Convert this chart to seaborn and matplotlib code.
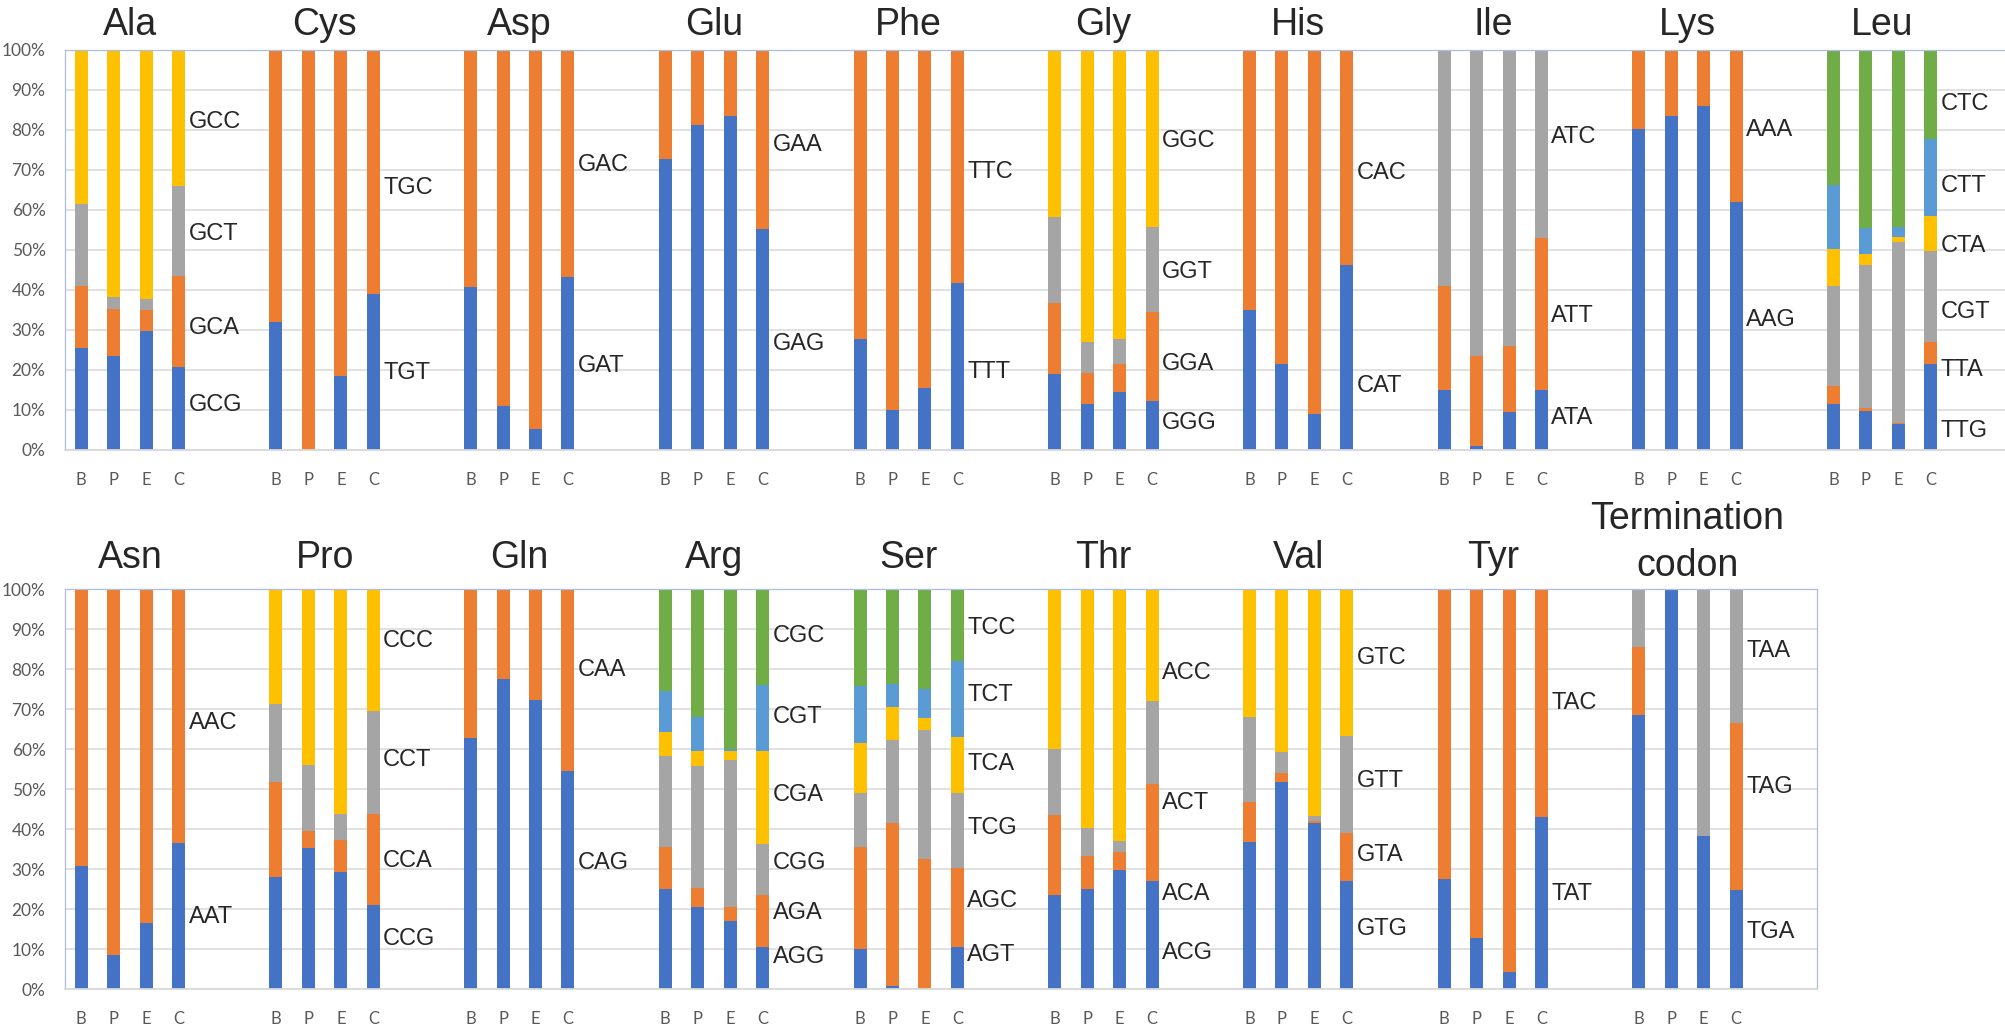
import numpy as np
import pandas as pd
import matplotlib
matplotlib.use("Agg")
import matplotlib.pyplot as plt
import seaborn as sns

# ---------------- DATA ----------------
STAGES = ["B", "P", "E", "C"]

TOP_ROW = ["Ala", "Cys", "Asp", "Glu", "Phe", "Gly", "His", "Ile", "Lys", "Leu"]
BOTTOM_ROW = ["Asn", "Pro", "Gln", "Arg", "Ser", "Thr", "Val", "Tyr", "Termination codon"]

# codons listed bottom -> top of each stacked bar; values in % for B, P, E, C
ala_codons = ["GCG", "GCA", "GCT", "GCC"]
ala_values = [[25.4, 23.4, 29.7, 20.7], [15.6, 11.9, 5.3, 22.8], [20.6, 3.0, 2.7, 22.4]]
cys_codons = ["TGT", "TGC"]
cys_values = [[32.0, 0.0, 18.5, 39.0]]
asp_codons = ["GAT", "GAC"]
asp_values = [[40.8, 11.1, 5.3, 43.2]]
glu_codons = ["GAG", "GAA"]
glu_values = [[72.7, 81.2, 83.4, 55.3]]
phe_codons = ["TTT", "TTC"]
phe_values = [[27.7, 10.1, 15.5, 41.7]]
gly_codons = ["GGG", "GGA", "GGT", "GGC"]
gly_values = [[19.1, 11.5, 14.5, 12.2], [17.6, 7.7, 6.9, 22.4], [21.6, 7.8, 6.3, 21.2]]
his_codons = ["CAT", "CAC"]
his_values = [[34.9, 21.5, 8.9, 46.3]]
ile_codons = ["ATA", "ATT", "ATC"]
ile_values = [[15.1, 1.1, 9.4, 15.1], [25.9, 22.3, 16.5, 37.9]]
lys_codons = ["AAG", "AAA"]
lys_values = [[80.2, 83.6, 85.9, 62.0]]
leu_codons = ["TTG", "TTA", "CGT", "CTA", "CTT", "CTC"]
leu_values = [[11.6, 9.7, 6.4, 21.5], [4.3, 0.8, 0.3, 5.5], [25.2, 35.8, 45.4, 22.7],
              [9.1, 2.7, 1.2, 8.8], [16.0, 6.4, 2.4, 19.3]]

asn_codons = ["AAT", "AAC"]
asn_values = [[30.8, 8.5, 16.6, 36.6]]
pro_codons = ["CCG", "CCA", "CCT", "CCC"]
pro_values = [[28.1, 35.2, 29.3, 20.9], [23.7, 4.2, 7.9, 22.9], [19.4, 16.5, 6.6, 25.8]]
gln_codons = ["CAG", "CAA"]
gln_values = [[62.7, 77.4, 72.2, 54.5]]
arg_codons = ["AGG", "AGA", "CGG", "CGA", "CGT", "CGC"]
arg_values = [[24.9, 20.5, 17.1, 10.4], [10.6, 4.8, 3.3, 13.2], [22.8, 30.4, 36.9, 12.7],
              [5.9, 3.8, 2.2, 23.2], [10.4, 8.4, 0.6, 16.4]]
ser_codons = ["AGT", "AGC", "TCG", "TCA", "TCT", "TCC"]
ser_values = [[9.9, 0.8, 0.0, 10.4], [25.7, 40.7, 32.4, 19.8], [13.3, 20.7, 32.4, 18.7],
              [12.7, 8.3, 2.9, 14.0], [14.2, 5.8, 7.2, 19.2]]
thr_codons = ["ACG", "ACA", "ACT", "ACC"]
thr_values = [[23.4, 24.9, 29.8, 27.1], [20.0, 8.3, 4.4, 24.1], [16.7, 7.0, 2.7, 20.8]]
val_codons = ["GTG", "GTA", "GTT", "GTC"]
val_values = [[36.7, 51.8, 41.6, 27.1], [10.0, 2.1, 0.4, 11.9], [21.2, 5.3, 1.2, 24.2]]
tyr_codons = ["TAT", "TAC"]
tyr_values = [[27.4, 12.8, 4.3, 42.9]]
ter_codons = ["TGA", "TAG", "TAA"]
ter_values = [[68.5, 100.0, 38.3, 24.8], [17.1, 0.0, 0.0, 41.7]]

CODONS = {"Ala": ala_codons, "Cys": cys_codons, "Asp": asp_codons, "Glu": glu_codons,
          "Phe": phe_codons, "Gly": gly_codons, "His": his_codons, "Ile": ile_codons,
          "Lys": lys_codons, "Leu": leu_codons, "Asn": asn_codons, "Pro": pro_codons,
          "Gln": gln_codons, "Arg": arg_codons, "Ser": ser_codons, "Thr": thr_codons,
          "Val": val_codons, "Tyr": tyr_codons, "Termination codon": ter_codons}
VALUES = {"Ala": ala_values, "Cys": cys_values, "Asp": asp_values, "Glu": glu_values,
          "Phe": phe_values, "Gly": gly_values, "His": his_values, "Ile": ile_values,
          "Lys": lys_values, "Leu": leu_values, "Asn": asn_values, "Pro": pro_values,
          "Gln": gln_values, "Arg": arg_values, "Ser": ser_values, "Thr": thr_values,
          "Val": val_values, "Tyr": tyr_values, "Termination codon": ter_values}

# ---------------- LAYOUT / STYLE ----------------
COLORS = ["#4472C4", "#ED7D31", "#A5A5A5", "#FFC000", "#5B9BD5", "#70AD47"]
# vertical placement (in %) of the codon names written beside bar C
LABEL_Y = {"Ala": [11.3, 30.5, 53.9, 81.9], "Cys": [19.2, 65.5], "Asp": [21.0, 71.2],
           "Glu": [26.4, 76.3], "Phe": [19.6, 69.5], "Gly": [6.7, 21.6, 44.6, 77.2],
           "His": [15.9, 69.2], "Ile": [8.0, 33.4, 78.3], "Lys": [32.4, 80.1],
           "Leu": [4.8, 20.0, 34.4, 51.0, 66.1, 86.6],
           "Asn": [17.9, 66.6], "Pro": [12.6, 32.1, 57.3, 86.9], "Gln": [31.4, 79.7],
           "Arg": [7.9, 19.0, 31.6, 48.6, 67.9, 88.2],
           "Ser": [8.4, 22.1, 40.3, 56.3, 73.4, 90.3],
           "Thr": [8.9, 23.8, 46.6, 79.0], "Val": [14.9, 33.5, 52.1, 82.8],
           "Tyr": [23.8, 71.5], "Termination codon": [14.3, 50.6, 84.5]}

SLOTS = 6          # 4 bars + 2 empty slots per amino acid
BAR_W = 0.40
FIG_W, FIG_H = 2006, 1028
SLOT_PX = 32.45
LEFT_PX = 65

sns.set_style("white")
plt.rcParams["font.family"] = ["Liberation Sans", "DejaVu Sans"]

TICK_FONT = ["Lato", "DejaVu Sans"]
TEXT_FONT = ["Liberation Sans", "DejaVu Sans"]

fig = plt.figure(figsize=(FIG_W / 100, FIG_H / 100), dpi=100)


def make_axes(n_amino, top_px):
    w = n_amino * SLOTS * SLOT_PX
    return fig.add_axes([LEFT_PX / FIG_W, (FIG_H - top_px - 400) / FIG_H, w / FIG_W, 400 / FIG_H])


def draw_row(ax, aminos, title_off_pts):
    nslot = len(aminos) * SLOTS
    order = [str(i) for i in range(nslot)]
    rows = []
    for ai, aa in enumerate(aminos):
        vals = np.array(VALUES[aa], dtype=float)
        top_series = 100.0 - vals.sum(axis=0)
        full = np.vstack([vals, top_series])
        cum = np.cumsum(full, axis=0)
        for k in range(full.shape[0]):
            for si in range(4):
                rows.append({"slot": str(ai * SLOTS + si), "level": k, "top": cum[k, si]})
    df = pd.DataFrame(rows)
    for k in range(df["level"].max(), -1, -1):
        sub = df[df["level"] == k]
        sns.barplot(data=sub, x="slot", y="top", order=order, color=COLORS[k],
                    width=BAR_W, errorbar=None, saturation=1, linewidth=0, ax=ax)

    ax.set_xlim(-0.5, nslot - 0.5)
    ax.set_ylim(0, 100)
    ax.set_xlabel("")
    ax.set_ylabel("")
    ticks, labels = [], []
    for ai in range(len(aminos)):
        for si, st in enumerate(STAGES):
            ticks.append(ai * SLOTS + si)
            labels.append(st)
    ax.set_xticks(ticks)
    ax.set_xticklabels(labels, fontsize=12, color="#595959", family=TICK_FONT)
    ax.set_yticks(np.arange(0, 101, 10))
    ax.set_yticklabels([f"{v}%" for v in range(0, 101, 10)], fontsize=12.5,
                       color="#595959", family=TICK_FONT)
    ax.tick_params(axis="x", length=0, pad=16)
    ax.tick_params(axis="y", length=0, pad=14)
    ax.yaxis.grid(True, color="#D9D9D9", linewidth=1.1)
    ax.xaxis.grid(False)
    ax.set_axisbelow(True)
    for side in ["left", "top", "right"]:
        ax.spines[side].set_color("#A9BEE0")
        ax.spines[side].set_linewidth(0.9)
    ax.spines["bottom"].set_color("#D9D9D9")
    ax.spines["bottom"].set_linewidth(1.3)

    for ai, aa in enumerate(aminos):
        cx = ai * SLOTS + 1.5
        if aa == "Termination codon":
            ax.annotate("codon", xy=(cx, 1), xycoords=("data", "axes fraction"),
                        xytext=(0, 9.5), textcoords="offset points", ha="center",
                        va="baseline", fontsize=27, family=TEXT_FONT)
            ax.annotate("Termination", xy=(cx, 1), xycoords=("data", "axes fraction"),
                        xytext=(0, 43.5), textcoords="offset points", ha="center",
                        va="baseline", fontsize=27, family=TEXT_FONT)
        else:
            ax.annotate(aa, xy=(cx, 1), xycoords=("data", "axes fraction"),
                        xytext=(0, title_off_pts), textcoords="offset points", ha="center",
                        va="baseline", fontsize=27, family=TEXT_FONT)
        cods = CODONS[aa]
        for cod, ly in zip(cods, LABEL_Y[aa]):
            ax.annotate(cod, xy=(ai * SLOTS + 3 + BAR_W / 2, ly), xycoords="data",
                        xytext=(2.5, 0), textcoords="offset points", ha="left",
                        va="center", fontsize=17, family=TEXT_FONT, annotation_clip=False)


ax_top = make_axes(len(TOP_ROW), 50)
draw_row(ax_top, TOP_ROW, 10.8)
ax_bot = make_axes(len(BOTTOM_ROW), 589)
draw_row(ax_bot, BOTTOM_ROW, 15.0)

fig.savefig("out.png", dpi=100)
